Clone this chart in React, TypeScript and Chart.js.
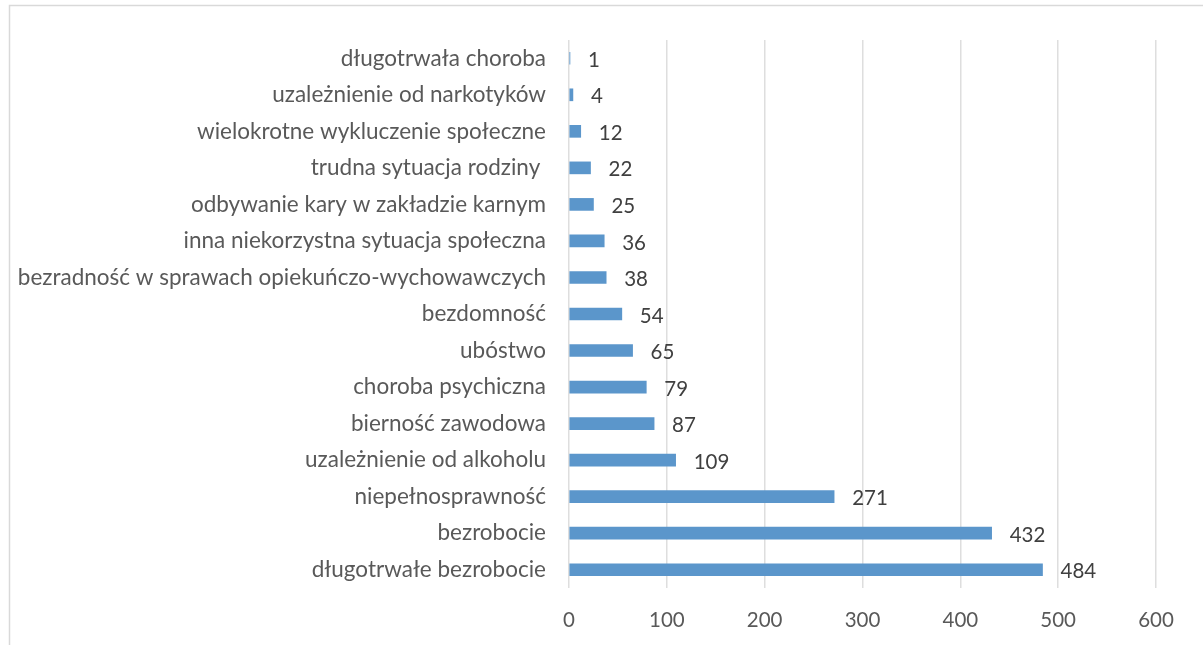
import React, { useEffect, useRef } from "react";
import { Chart, registerables } from "chart.js";

Chart.register(...registerables);

const categories: string[] = [
  "długotrwała choroba",
  "uzależnienie od narkotyków",
  "wielokrotne wykluczenie społeczne",
  "trudna sytuacja rodziny ",
  "odbywanie kary w zakładzie karnym",
  "inna niekorzystna sytuacja społeczna",
  "bezradność w sprawach opiekuńczo-wychowawczych",
  "bezdomność",
  "ubóstwo",
  "choroba psychiczna",
  "bierność zawodowa",
  "uzależnienie od alkoholu",
  "niepełnosprawność",
  "bezrobocie",
  "długotrwałe bezrobocie",
];

const values: number[] = [1, 4, 12, 22, 25, 36, 38, 54, 65, 79, 87, 109, 271, 432, 484];

const xTicks: number[] = [0, 100, 200, 300, 400, 500, 600];

const FONT = "Lato, 'Open Sans', sans-serif";

const frame = {
  id: "frame",
  beforeDraw(chart: any) {
    const ctx = chart.ctx;
    ctx.save();
    ctx.fillStyle = "#ffffff";
    ctx.fillRect(0, 0, chart.width, chart.height);
    ctx.strokeStyle = "#d9d9d9";
    ctx.lineWidth = 1.5;
    ctx.strokeRect(9.5, 5.5, chart.width + 20, chart.height + 20);
    ctx.restore();
  },
};

const valueLabels = {
  id: "valueLabels",
  afterDatasetsDraw(chart: any) {
    const ctx = chart.ctx;
    const meta = chart.getDatasetMeta(0);
    ctx.save();
    ctx.font = `20.5px ${FONT}`;
    ctx.fillStyle = "#404040";
    ctx.textAlign = "left";
    ctx.textBaseline = "middle";
    meta.data.forEach((bar: any, i: number) => {
      const v = chart.data.datasets[0].data[i];
      ctx.fillText(String(v), bar.x + 18, bar.y + 2);
    });
    ctx.restore();
  },
};

export default function App() {
  const ref = useRef<HTMLCanvasElement | null>(null);

  useEffect(() => {
    if (!ref.current) return;
    const chart = new Chart(ref.current, {
      type: "bar",
      data: {
        labels: categories,
        datasets: [
          {
            data: values,
            backgroundColor: "#5B96CB",
            barThickness: 12,
          },
        ],
      },
      options: {
        indexAxis: "y",
        responsive: false,
        animation: false,
        layout: { padding: { top: 40, right: 47, left: 0, bottom: 0 } },
        plugins: {
          legend: { display: false },
          tooltip: { enabled: false },
        },
        scales: {
          x: {
            min: 0,
            max: 600,
            afterBuildTicks: (scale: any) => {
              scale.ticks = xTicks.map((v) => ({ value: v }));
            },
            afterFit: (scale: any) => {
              scale.height = 57;
            },
            grid: {
              color: "#dedede",
              lineWidth: 1.5,
              drawTicks: false,
            },
            border: { display: false },
            ticks: {
              padding: 20,
              color: "#595959",
              font: { family: FONT, size: 20.5 },
            },
          },
          y: {
            afterFit: (scale: any) => {
              scale.width = 569;
            },
            grid: { display: false, drawTicks: false },
            border: { display: false },
            ticks: {
              padding: 23,
              color: "#595959",
              font: { family: FONT, size: 22.5 },
            },
          },
        },
      },
      plugins: [frame, valueLabels],
    });
    return () => chart.destroy();
  }, []);

  return (
    <div style={{ position: "absolute", left: 0, top: 0, width: 1203, height: 645 }}>
      <canvas ref={ref} width={1203} height={645} style={{ display: "block" }} />
    </div>
  );
}
